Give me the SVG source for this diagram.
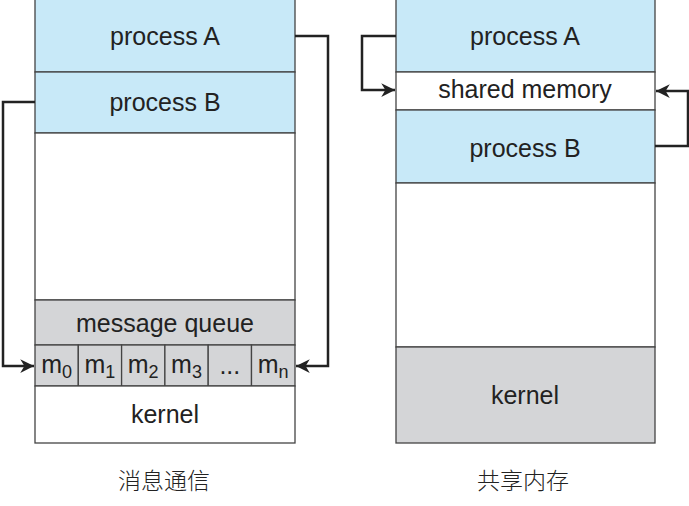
<svg xmlns="http://www.w3.org/2000/svg" width="689" height="506" viewBox="0 0 689 506">
<defs>
<style>
.blue{fill:#c8e9f8;stroke:#444;stroke-width:1.3}
.gray{fill:#d4d5d7;stroke:#444;stroke-width:1.3}
.white{fill:#fff;stroke:#444;stroke-width:1.3}
.t{font-family:"Liberation Sans",Arial,sans-serif;font-size:25px;fill:#222;text-anchor:middle}
.sub{font-size:18px}
.cap{font-family:"Noto Sans CJK SC","Liberation Sans",sans-serif;font-size:23px;font-weight:300;fill:#222;text-anchor:middle}
.conn{fill:none;stroke:#222;stroke-width:2.5}
</style>
<marker id="arr" viewBox="0 0 10 10" refX="10" refY="5" markerWidth="5.5" markerHeight="5.5" orient="auto" markerUnits="strokeWidth">
<path d="M0,0 L10,5 L0,10 L3,5 z" fill="#222"/>
</marker>
</defs>

<g id="left">
<g id="l-procA"><rect class="blue" x="35" y="-2" width="260" height="74"/><text class="t" x="165" y="45">process A</text></g>
<g id="l-procB"><rect class="blue" x="35" y="72" width="260" height="61"/><text class="t" x="165" y="111">process B</text></g>
<g id="l-free"><rect class="white" x="35" y="133" width="260" height="167"/></g>
<g id="l-mq"><rect class="gray" x="35" y="300" width="260" height="45"/><text class="t" x="165" y="332">message queue</text></g>
<g id="l-msgs">
<rect class="gray" x="35" y="345" width="43.3" height="41"/>
<rect class="gray" x="78.3" y="345" width="43.3" height="41"/>
<rect class="gray" x="121.6" y="345" width="43.3" height="41"/>
<rect class="gray" x="164.9" y="345" width="43.3" height="41"/>
<rect class="gray" x="208.2" y="345" width="43.3" height="41"/>
<rect class="gray" x="251.5" y="345" width="43.5" height="41"/>
<text class="t" x="56.6" y="373">m<tspan class="sub" dy="5">0</tspan></text>
<text class="t" x="99.9" y="373">m<tspan class="sub" dy="5">1</tspan></text>
<text class="t" x="143.2" y="373">m<tspan class="sub" dy="5">2</tspan></text>
<text class="t" x="186.5" y="373">m<tspan class="sub" dy="5">3</tspan></text>
<text class="t" x="229.8" y="374">...</text>
<text class="t" x="273.2" y="373">m<tspan class="sub" dy="5">n</tspan></text>
</g>
<g id="l-kernel"><rect class="white" x="35" y="386" width="260" height="57"/><text class="t" x="165" y="423">kernel</text></g>
<g id="l-cap"><text class="cap" x="164" y="489">消息通信</text></g>
</g>

<g id="right">
<g id="r-procA"><rect class="blue" x="396" y="-2" width="259" height="74"/><text class="t" x="525" y="45">process A</text></g>
<g id="r-shm"><rect class="white" x="396" y="72" width="259" height="38"/><text class="t" x="525" y="98">shared memory</text></g>
<g id="r-procB"><rect class="blue" x="396" y="110" width="259" height="73"/><text class="t" x="525" y="157">process B</text></g>
<g id="r-free"><rect class="white" x="396" y="183" width="259" height="164"/></g>
<g id="r-kernel"><rect class="gray" x="396" y="347" width="259" height="96"/><text class="t" x="525" y="404">kernel</text></g>
<g id="r-cap"><text class="cap" x="523" y="489">共享内存</text></g>
</g>

<g id="connectors">
<path class="conn" d="M35,102 H3 V366 H34" marker-end="url(#arr)"/>
<path class="conn" d="M295,36 H328 V366 H296" marker-end="url(#arr)"/>
<path class="conn" d="M396,36 H362 V90 H395" marker-end="url(#arr)"/>
<path class="conn" d="M655,146 H688 V91 H656" marker-end="url(#arr)"/>
</g>
</svg>
